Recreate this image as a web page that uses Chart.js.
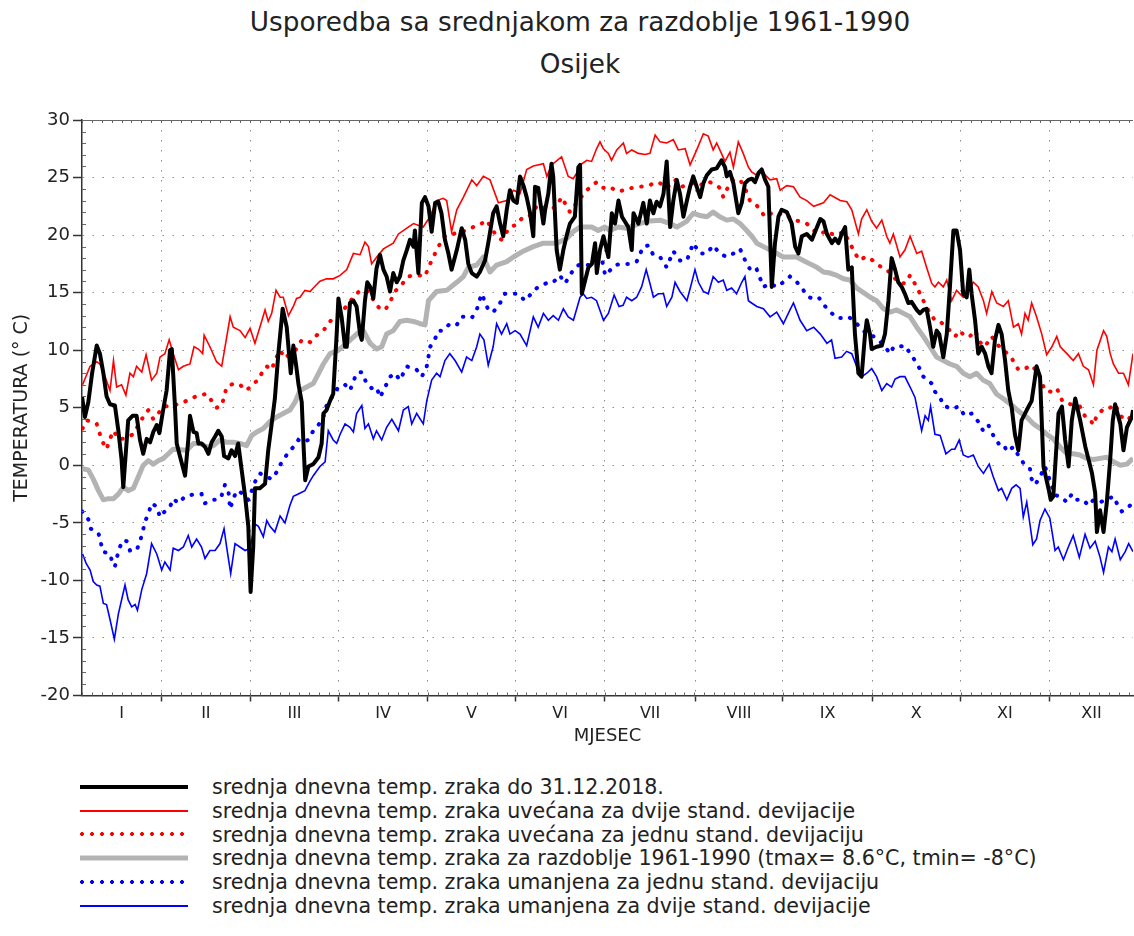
<!doctype html>
<html lang="hr">
<head>
<meta charset="utf-8">
<title>Usporedba sa srednjakom za razdoblje 1961-1990 - Osijek</title>
<script src="https://cdn.jsdelivr.net/npm/chart.js@4.4.1/dist/chart.umd.min.js"></script>
<style>
  * { box-sizing: border-box; }
  body { margin: 0; background: #fff; color: #222; font-family: 'DejaVu Sans', sans-serif; }
  .page { position: relative; width: 1134px; height: 936px; overflow: hidden; }
  .title { position: absolute; left: 0; width: 1160px; text-align: center; font-size: 26.3px; line-height: 30px; margin: 0; font-weight: normal; }
  .chart-box { position: absolute; left: 0; top: 0; width: 1134px; height: 760px; }
  .legend { position: absolute; left: 0; top: 775px; width: 1134px; margin: 0; padding: 0; list-style: none; }
  .legend li { position: relative; height: 23.8px; }
  .legend .sample { position: absolute; left: 80px; width: 108px; top: 50%; transform: translateY(-50%); }
  .legend .text { position: absolute; left: 212px; top: 0; font-size: 20.6px; line-height: 24px; white-space: nowrap; }
  .s-black { height: 4px; background: #000; }
  .s-red { height: 2px; background: #ff0000; }
  .s-reddot { height: 4px; background: radial-gradient(circle at 2px 2px, #ff0000 1.7px, transparent 2.2px) 0 0 / 10px 4px repeat-x; }
  .s-gray { height: 5px; background: #b3b3b3; }
  .s-bluedot { height: 4px; background: radial-gradient(circle at 2px 2px, #0000ff 1.7px, transparent 2.2px) 0 0 / 10px 4px repeat-x; }
  .s-blue { height: 2px; background: #0000ff; }
</style>
</head>
<body>
<div class="page">
  <h1 class="title" style="top:7px">Usporedba sa srednjakom za razdoblje 1961-1990</h1>
  <h2 class="title" style="top:49px">Osijek</h2>
  <div class="chart-box"><canvas id="chart"></canvas></div>
  <ul class="legend">
    <li><span class="sample s-black"></span><span class="text">srednja dnevna temp. zraka do 31.12.2018.</span></li>
    <li><span class="sample s-red"></span><span class="text">srednja dnevna temp. zraka uvećana za dvije stand. devijacije</span></li>
    <li><span class="sample s-reddot"></span><span class="text">srednja dnevna temp. zraka uvećana za jednu stand. devijaciju</span></li>
    <li><span class="sample s-gray"></span><span class="text">srednja dnevna temp. zraka za razdoblje 1961-1990 (tmax= 8.6°C, tmin= -8°C)</span></li>
    <li><span class="sample s-bluedot"></span><span class="text">srednja dnevna temp. zraka umanjena za jednu stand. devijaciju</span></li>
    <li><span class="sample s-blue"></span><span class="text">srednja dnevna temp. zraka umanjena za dvije stand. devijacije</span></li>
  </ul>
</div>
<script>
// x axis is day of year (0..364); month edges and label centres are in days
const monthEdges = [27.4, 58.4, 88.8, 119.7, 150.1, 181.1, 212.4, 242.7, 273.7, 304.1, 335.2];
const monthNames = ['I', 'II', 'III', 'IV', 'V', 'VI', 'VII', 'VIII', 'IX', 'X', 'XI', 'XII'];
const xMin = 0, xMax = 364;
const yMin = -20, yMax = 30, yStep = 5;

// 2018 daily mean
const blackDays = [0, 1, 2.2, 3.5, 5.1, 6.2, 7.4, 8.5, 9.7, 11.4, 12.6, 13.7, 14.3, 15.5, 16.0, 17.5, 18.9, 20.1, 21.2, 22.4,
  23.6, 24.7, 25.9, 26.8, 27.9, 29.3, 30.5, 31.1, 32.2, 32.8, 33.9, 35.7, 36.8, 37.4, 38.6, 39.7, 40.3, 41.4, 42.6, 43.8,
  44.9, 46.1, 47.2, 48.4, 49.2, 50.7, 51.8, 53.0, 54.1, 55.3, 56.5, 57.6, 58.4, 59.3, 59.9, 61.6, 63.4, 64.5, 65.7, 66.8,
  68.0, 69.5, 70.9, 72.3, 73.2, 74.2, 75.0, 76.1, 76.7, 77.3, 78.4, 80.1, 81.9, 83.0, 83.6, 84.7, 85.9, 87.0, 88.2, 88.8,
  89.9, 91.1, 91.7, 92.8, 94.0, 95.1, 96.3, 96.9, 98.0, 98.8, 99.8, 100.9, 102.0, 103.2, 104.4, 105.5, 106.7, 107.8, 109.0, 110.1,
  111.3, 112.5, 113.6, 114.8, 115.3, 116.5, 117.7, 118.8, 120.0, 121.1, 122.3, 123.4, 124.5, 125.7, 126.9, 128.0, 129.8, 131.5, 132.7, 133.8,
  135.0, 136.7, 137.8, 139.6, 140.7, 142.4, 143.6, 144.8, 145.9, 147.1, 148.2, 149.4, 150.6, 151.7, 152.9, 154.0, 155.2, 156.3, 156.9, 158.0,
  159.8, 160.4, 161.5, 162.6, 163.2, 164.4, 165.5, 166.7, 167.9, 169.0, 170.7, 171.9, 172.5, 173.1, 174.3, 175.4, 176.6, 177.7, 178.3, 179.4,
  180.6, 182.3, 183.5, 184.6, 185.8, 187.0, 189.2, 190.4, 191.0, 192.7, 194.4, 195.6, 196.7, 197.9, 199.0, 200.2, 201.4, 202.5, 203.7, 204.8,
  206.0, 207.1, 208.3, 209.5, 210.6, 211.7, 212.9, 214.1, 215.2, 216.4, 218.1, 219.8, 221.5, 222.7, 223.3, 224.4, 225.6, 227.3, 228.5, 229.6,
  230.8, 232.0, 233.1, 234.3, 235.4, 236.6, 237.7, 238.9, 240.0, 241.2, 242.3, 244.1, 245.8, 247.0, 248.1, 249.3, 251.0, 252.8, 253.9, 255.7,
  256.8, 258.0, 259.7, 260.8, 262.0, 263.1, 264.3, 265.4, 266.6, 267.7, 268.9, 270.0, 271.2, 271.8, 272.9, 273.5, 275.2, 277.0, 278.1, 279.3,
  280.4, 281.6, 282.7, 283.9, 285.0, 286.2, 287.3, 289.1, 290.2, 291.4, 292.5, 293.7, 294.8, 296.0, 296.9, 298.3, 299.5, 300.6, 301.8, 302.9,
  304.1, 305.2, 306.4, 307.3, 308.1, 309.3, 310.4, 311.6, 312.8, 313.9, 315.0, 316.2, 317.4, 318.5, 319.7, 320.8, 322.0, 323.1, 324.3, 325.4,
  327.2, 328.9, 330.0, 330.6, 331.8, 333.0, 334.8, 335.5, 336.4, 338.2, 339.4, 340.5, 341.7, 342.8, 344.0, 345.7, 347.5, 348.6, 349.8, 350.9,
  351.5, 352.6, 353.8, 354.9, 356.1, 357.0, 357.8, 359.6, 360.7, 361.9, 363.6, 364];
const blackTemps = [6.0, 4.2, 5.5, 8.0, 10.4, 9.7, 8.0, 6.0, 5.3, 5.2, 3.0, 0.5, -1.9, 2.2, 3.9, 4.3, 4.3, 2.2, 1.0, 2.3,
  2.0, 2.9, 3.5, 2.8, 4.5, 6.5, 10.0, 10.1, 5.1, 1.9, 0.8, -0.9, 2.2, 4.3, 2.9, 2.8, 1.9, 1.9, 1.6, 1.0,
  2.0, 2.5, 3.0, 2.5, 0.8, 0.6, 1.3, 0.8, 1.9, -0.4, -2.7, -5.3, -11.0, -7.1, -2.0, -2.0, -1.6, 1.3, 3.6, 5.8,
  9.7, 13.6, 12.0, 8.0, 10.4, 8.6, 7.0, 5.5, 1.9, -1.3, -0.1, 0.1, 0.7, 1.9, 4.5, 4.8, 5.6, 6.2, 11.4, 14.5,
  12.9, 10.3, 10.3, 14.1, 14.3, 13.8, 11.4, 10.9, 14.3, 15.9, 15.5, 14.5, 17.1, 18.3, 17.0, 16.4, 15.1, 16.7, 15.9, 16.4,
  17.8, 18.7, 19.6, 19.0, 20.4, 16.7, 22.8, 23.3, 22.5, 20.3, 22.8, 22.9, 21.9, 19.6, 18.4, 17.0, 18.7, 20.6, 19.6, 17.5,
  16.7, 16.4, 16.8, 17.8, 19.3, 21.9, 22.5, 21.0, 19.9, 22.2, 23.9, 23.0, 22.8, 25.1, 24.3, 23.3, 21.9, 19.9, 24.2, 24.1,
  21.0, 22.2, 23.6, 26.2, 25.1, 18.7, 17.0, 18.7, 20.0, 21.0, 21.6, 25.9, 26.1, 14.9, 16.1, 17.2, 17.5, 19.3, 16.7, 18.7,
  19.9, 18.1, 21.9, 21.0, 23.0, 21.6, 20.7, 18.7, 21.9, 21.0, 22.8, 21.0, 23.0, 21.9, 22.9, 22.5, 23.6, 26.4, 20.7, 23.0,
  24.8, 23.6, 21.6, 23.0, 24.2, 25.1, 24.2, 23.3, 24.5, 25.2, 25.7, 25.8, 26.5, 25.9, 25.1, 25.5, 24.5, 21.9, 22.8, 24.5,
  24.8, 24.9, 24.6, 25.4, 25.7, 24.8, 24.2, 15.5, 19.3, 21.6, 22.2, 22.0, 21.0, 19.0, 18.4, 19.9, 20.1, 19.6, 20.3, 21.4,
  21.2, 20.1, 19.3, 19.7, 19.3, 20.1, 20.7, 17.0, 17.2, 11.4, 8.0, 7.7, 11.4, 12.6, 11.4, 10.1, 10.3, 10.4, 11.4, 14.3,
  18.0, 17.0, 15.9, 15.5, 14.9, 14.1, 14.2, 13.5, 13.2, 13.5, 13.6, 12.0, 10.3, 11.7, 11.4, 9.4, 11.4, 15.5, 20.4, 20.4,
  18.7, 14.9, 14.6, 17.0, 14.9, 12.6, 9.7, 10.3, 9.7, 8.6, 8.0, 10.9, 12.2, 11.4, 9.1, 6.5, 5.0, 2.7, 1.3, 3.9,
  4.8, 5.6, 7.5, 8.6, 7.7, -0.1, -2.1, -3.0, -2.7, 4.5, 5.1, 2.2, -0.1, 3.9, 5.8, 3.9, 1.6, 0.5, -0.7, -2.4,
  -5.8, -3.9, -5.8, -3.3, 0.5, 3.9, 5.3, 3.6, 1.3, 3.3, 4.2, 4.8];

// 1961-1990 mean + 2 standard deviations
const redDays = [0.2, 2.8, 5.1, 6.2, 8.0, 9.7, 10.9, 12.0, 13.7, 15.2, 16.6, 17.8, 18.9, 20.7, 22.2, 24.1, 25.9, 27.0, 28.7, 30.2,
  31.6, 33.4, 35.1, 37.4, 38.8, 40.3, 41.8, 42.3, 44.3, 46.6, 48.4, 51.3, 52.4, 54.7, 56.5, 58.2, 59.9, 61.6, 63.4, 64.5,
  65.7, 67.2, 68.6, 69.7, 71.5, 73.2, 74.3, 75.5, 77.2, 79.0, 80.1, 82.4, 84.7, 87.0, 89.4, 91.7, 94.0, 96.3, 98.0, 99.2,
  100.3, 102.1, 104.4, 107.8, 109.6, 112.5, 114.8, 118.2, 120.5, 122.8, 125.1, 126.3, 128.0, 129.8, 132.1, 135.0, 136.7, 139.0, 141.3, 144.2,
  147.1, 149.4, 151.7, 154.0, 156.3, 159.8, 161.0, 162.6, 166.1, 168.4, 170.1, 171.9, 173.1, 174.8, 176.5, 178.2, 179.4, 180.6, 182.3, 183.4,
  185.2, 187.5, 188.6, 190.4, 192.7, 195.0, 196.7, 198.5, 200.2, 202.5, 204.8, 206.5, 208.9, 210.6, 212.9, 215.2, 216.9, 218.6, 219.8, 220.9,
  222.7, 224.4, 225.6, 227.3, 229.0, 230.8, 231.9, 233.7, 235.4, 237.1, 238.3, 240.6, 241.8, 244.1, 246.4, 248.7, 251.0, 253.4, 256.8, 259.1,
  262.6, 264.9, 266.6, 268.9, 270.0, 271.8, 273.5, 275.2, 277.0, 278.7, 279.8, 281.0, 283.3, 285.0, 286.8, 289.1, 290.8, 292.5, 294.3, 295.4,
  296.6, 298.3, 299.5, 301.2, 302.9, 305.2, 307.0, 308.7, 310.4, 312.2, 313.3, 315.1, 316.8, 319.1, 320.8, 322.6, 324.3, 325.4, 326.6, 327.7,
  328.9, 330.6, 332.4, 334.1, 335.9, 337.6, 338.8, 341.1, 343.3, 345.1, 346.8, 348.6, 350.3, 351.5, 353.8, 354.9, 356.1, 357.2, 359.0, 360.7,
  362.4, 364];
const redTemps = [7.0, 8.6, 9.0, 8.8, 7.7, 6.5, 9.1, 6.8, 7.0, 6.1, 8.0, 7.7, 8.6, 8.1, 9.6, 7.4, 8.0, 9.4, 9.7, 10.9,
  9.7, 8.3, 8.6, 8.8, 10.3, 10.1, 9.7, 11.3, 10.3, 9.0, 8.6, 12.9, 12.0, 11.7, 11.1, 11.9, 10.6, 12.0, 13.5, 12.5,
  13.2, 15.2, 14.6, 14.6, 13.0, 13.8, 14.5, 14.6, 15.2, 15.1, 15.4, 16.0, 16.2, 16.2, 16.5, 17.0, 18.4, 18.3, 19.4, 19.0,
  17.5, 18.1, 18.8, 19.3, 20.1, 20.6, 21.0, 20.7, 21.6, 23.0, 23.2, 23.0, 20.3, 22.2, 23.3, 24.8, 24.3, 25.1, 24.8, 22.8,
  23.0, 23.9, 23.6, 25.7, 26.0, 26.2, 25.1, 26.1, 26.8, 25.1, 24.9, 25.6, 26.2, 26.5, 26.4, 27.5, 28.1, 27.5, 27.1, 26.5,
  27.4, 28.0, 27.1, 27.4, 27.1, 27.0, 27.1, 28.7, 28.1, 28.0, 28.3, 27.4, 27.5, 26.1, 27.4, 28.8, 28.6, 27.4, 28.0, 27.4,
  26.4, 27.2, 25.9, 28.1, 27.1, 25.9, 25.5, 25.2, 25.6, 25.1, 24.8, 24.9, 23.9, 24.3, 24.2, 23.3, 23.0, 22.5, 22.8, 23.5,
  23.0, 22.9, 22.2, 20.1, 21.4, 22.2, 21.2, 20.6, 21.3, 19.9, 19.3, 20.1, 18.1, 18.7, 19.9, 18.4, 18.6, 17.2, 15.8, 15.5,
  15.9, 15.5, 16.1, 14.3, 15.2, 14.6, 15.2, 15.9, 15.5, 14.3, 13.2, 15.1, 14.1, 13.8, 14.3, 12.0, 12.3, 11.4, 13.2, 12.6,
  14.1, 12.9, 11.4, 9.6, 10.3, 11.2, 10.3, 9.7, 9.1, 9.7, 8.6, 8.3, 7.0, 10.0, 11.7, 11.2, 9.7, 8.8, 8.0, 8.0,
  7.0, 9.7];

// 1961-1990 mean + 1 standard deviation
const redDotDays = [0.2, 1.6, 3.3, 5.1, 6.2, 7.4, 8.5, 9.7, 10.9, 12.6, 14.3, 16.0, 17.8, 19.5, 21.2, 23.0, 24.7, 26.4, 28.2, 31.6,
  34.5, 38.6, 40.9, 43.2, 46.6, 48.4, 50.1, 52.4, 54.7, 57.0, 59.3, 61.1, 62.8, 64.0, 65.7, 66.8, 68.6, 70.3, 72.0, 74.3,
  76.1, 79.0, 80.7, 83.6, 85.9, 87.6, 89.9, 94.0, 96.3, 99.2, 101.5, 103.2, 105.0, 106.7, 108.4, 110.7, 113.0, 114.8, 117.1, 118.8,
  120.0, 121.7, 123.4, 125.7, 128.6, 130.9, 133.2, 135.5, 137.8, 140.1, 143.6, 145.3, 148.2, 150.5, 152.8, 155.2, 157.5, 159.8, 162.1, 164.4,
  166.1, 169.0, 171.9, 174.8, 178.2, 180.6, 182.8, 185.2, 188.0, 190.4, 193.3, 196.2, 199.0, 200.2, 202.5, 205.4, 207.7, 210.0, 212.9, 215.2,
  217.5, 219.8, 220.9, 222.1, 223.8, 225.6, 227.9, 229.6, 231.3, 233.0, 234.8, 236.5, 238.3, 240.6, 242.3, 244.1, 246.4, 248.7, 251.0, 253.4,
  255.7, 258.0, 259.7, 261.4, 263.7, 266.0, 267.7, 269.5, 271.2, 272.9, 275.2, 277.0, 278.7, 281.0, 282.7, 285.0, 286.8, 289.1, 291.4, 293.7,
  295.4, 297.2, 300.6, 302.4, 304.0, 305.8, 307.5, 309.3, 311.0, 312.7, 315.0, 317.4, 319.7, 322.0, 324.3, 326.6, 328.9, 331.2, 333.5, 335.5,
  337.6, 339.5, 341.5, 343.3, 345.6, 347.3, 349.1, 350.3, 351.4, 353.8, 355.5, 357.8, 359.6, 361.9, 363.6];
const redDotTemps = [3.2, 3.9, 3.8, 3.6, 2.7, 1.9, 1.4, 2.3, 3.0, 2.3, 2.3, 2.5, 2.7, 3.5, 4.2, 4.8, 4.0, 4.5, 5.1, 5.2,
  5.4, 5.9, 6.1, 6.2, 5.0, 5.2, 6.8, 7.1, 7.0, 6.5, 7.1, 7.4, 8.3, 8.6, 8.3, 9.1, 10.0, 9.3, 9.7, 10.1,
  10.9, 10.7, 11.2, 11.7, 12.5, 12.9, 13.3, 14.6, 15.2, 15.1, 14.1, 13.6, 13.5, 14.2, 15.1, 15.7, 16.4, 16.5, 16.5, 16.4,
  17.2, 18.1, 19.0, 19.9, 20.1, 20.3, 20.4, 20.7, 20.9, 21.3, 19.9, 19.6, 20.7, 20.9, 21.6, 21.7, 22.5, 22.5, 22.2, 22.5,
  23.3, 22.0, 23.0, 23.9, 24.6, 24.1, 24.2, 23.8, 23.9, 24.1, 24.2, 24.3, 24.6, 24.5, 24.1, 24.8, 24.2, 24.4, 24.6, 24.3,
  24.6, 24.3, 24.1, 23.3, 24.2, 24.8, 24.8, 24.1, 23.0, 22.8, 22.2, 21.6, 21.9, 21.7, 21.9, 21.7, 21.3, 21.2, 21.0, 20.4,
  20.1, 20.4, 20.1, 20.0, 20.3, 19.3, 18.4, 17.8, 18.1, 18.0, 17.5, 17.2, 17.0, 16.4, 15.9, 15.8, 16.5, 15.5, 14.3, 13.2,
  12.6, 12.5, 11.7, 11.2, 11.7, 11.2, 11.2, 11.7, 10.7, 10.3, 11.2, 10.4, 9.9, 9.3, 8.3, 8.4, 8.7, 8.0, 6.5, 6.4,
  6.7, 5.6, 5.4, 5.2, 5.1, 4.3, 4.0, 3.5, 4.3, 4.9, 4.9, 5.3, 4.3, 3.9, 4.3];

// 1961-1990 mean
const grayDays = [0.2, 2.2, 3.9, 5.7, 7.4, 9.1, 10.9, 12.6, 14.3, 16.0, 17.8, 19.5, 21.2, 23.0, 24.7, 26.4, 28.2, 29.9, 31.6, 36.3,
  38.6, 40.9, 43.2, 45.5, 47.8, 50.1, 52.4, 54.7, 57.0, 58.8, 60.5, 62.8, 65.1, 67.4, 69.7, 72.0, 73.8, 75.5, 80.1, 83.6,
  85.9, 88.8, 91.7, 95.1, 97.4, 99.8, 102.1, 103.8, 105.5, 107.8, 110.1, 112.5, 114.8, 117.1, 118.8, 120.0, 122.8, 126.3, 129.8, 132.1,
  133.8, 136.7, 139.0, 141.3, 143.6, 147.1, 149.4, 152.8, 156.3, 159.8, 164.4, 167.9, 170.1, 172.5, 176.5, 178.8, 181.1, 182.8, 185.8, 188.6,
  192.1, 195.6, 200.2, 203.7, 206.0, 209.4, 211.7, 214.0, 216.4, 218.6, 220.9, 223.3, 225.6, 227.9, 230.2, 232.0, 233.7, 236.0, 238.3, 240.6,
  242.9, 245.2, 247.5, 249.8, 252.1, 254.5, 256.8, 259.1, 261.4, 263.7, 266.0, 268.3, 269.5, 273.0, 275.2, 277.6, 279.9, 282.2, 284.5, 286.8,
  289.1, 291.4, 293.7, 296.0, 298.3, 300.6, 302.9, 305.2, 307.5, 309.8, 312.1, 314.4, 316.7, 319.0, 322.6, 324.9, 327.2, 329.5, 331.8, 334.1,
  336.4, 338.7, 341.1, 343.3, 345.6, 347.9, 350.3, 352.6, 354.9, 357.2, 359.6, 361.9, 364];
const grayTemps = [-0.3, -0.4, -1.2, -2.2, -3.0, -2.9, -2.9, -2.5, -1.9, -2.2, -2.0, -1.0, 0.0, 0.4, 0.1, 0.4, 0.6, 1.0, 1.4, 1.3,
  1.9, 1.9, 1.6, 1.7, 2.2, 2.0, 2.0, 1.9, 1.7, 2.6, 2.9, 3.2, 3.8, 4.2, 4.5, 4.8, 5.5, 6.5, 7.1, 8.8,
  9.7, 10.0, 10.6, 11.4, 11.7, 10.6, 10.1, 10.3, 11.4, 11.7, 12.5, 12.6, 12.5, 12.3, 12.2, 14.3, 15.1, 15.2, 15.9, 16.4,
  17.2, 17.4, 18.1, 16.8, 17.4, 17.7, 18.1, 18.6, 19.0, 19.3, 19.3, 19.7, 20.3, 20.7, 20.7, 20.4, 20.7, 20.4, 20.7, 20.6,
  20.9, 21.2, 21.3, 21.0, 20.7, 21.2, 21.9, 21.7, 21.6, 22.0, 21.6, 21.3, 21.4, 21.0, 20.4, 19.9, 19.3, 19.0, 18.7, 18.4,
  18.1, 18.1, 18.1, 17.8, 17.5, 17.2, 16.8, 16.7, 16.5, 16.2, 16.1, 15.4, 15.2, 14.6, 14.3, 13.6, 13.3, 13.5, 13.2, 12.9,
  12.0, 11.2, 10.3, 9.4, 9.1, 8.8, 8.6, 8.0, 7.7, 8.0, 7.4, 7.1, 6.2, 5.8, 5.1, 4.6, 4.2, 3.6, 3.2, 2.7,
  2.3, 1.6, 1.0, 1.0, 0.9, 0.6, 0.5, 0.6, 0.7, 0.3, 0.0, 0.1, 0.6];

// 1961-1990 mean - 1 standard deviation
const blueDotDays = [0.0, 2.2, 3.0, 5.7, 6.5, 7.2, 9.7, 10.6, 11.4, 12.0, 12.9, 14.3, 15.5, 16.6, 18.9, 20.1, 21.0, 21.8, 23.0, 24.1,
  25.9, 27.0, 28.7, 30.5, 31.6, 33.4, 35.7, 37.4, 39.1, 41.4, 42.6, 44.9, 47.2, 48.4, 49.5, 50.7, 51.3, 52.4, 53.6, 54.7,
  56.5, 57.6, 60.0, 61.6, 64.0, 65.7, 67.4, 69.2, 70.9, 73.2, 74.9, 76.1, 78.4, 80.1, 81.9, 83.6, 84.7, 86.5, 88.8, 91.1,
  92.8, 95.1, 96.9, 98.6, 100.3, 102.0, 103.2, 105.0, 106.7, 108.4, 110.1, 112.5, 114.2, 115.9, 117.7, 119.4, 120.6, 122.3, 123.4, 125.1,
  127.4, 129.8, 131.5, 133.2, 135.0, 136.7, 138.4, 139.6, 140.7, 142.4, 144.8, 146.5, 148.8, 151.1, 153.4, 155.2, 157.5, 159.8, 161.5, 163.2,
  165.5, 167.3, 170.2, 172.5, 175.4, 177.7, 180.0, 181.2, 184.6, 186.9, 189.8, 192.1, 194.4, 196.2, 197.8, 200.2, 202.5, 204.8, 207.1, 209.5,
  211.7, 214.0, 216.4, 218.6, 220.9, 223.3, 225.6, 227.9, 230.2, 232.0, 233.7, 236.0, 238.3, 240.6, 242.9, 245.2, 247.0, 249.3, 251.6, 253.3,
  255.1, 257.4, 259.7, 261.4, 263.1, 265.4, 267.1, 269.5, 271.8, 274.1, 275.8, 278.1, 279.9, 281.1, 282.8, 285.1, 286.8, 288.5, 289.7, 291.4,
  292.6, 294.3, 295.4, 297.2, 298.3, 301.2, 303.5, 305.8, 308.1, 310.4, 312.1, 313.9, 315.6, 317.4, 319.1, 320.3, 322.6, 324.9, 326.6, 328.3,
  328.9, 330.1, 331.8, 333.5, 335.2, 337.0, 338.8, 341.1, 342.8, 344.5, 346.8, 348.6, 350.3, 352.6, 354.9, 357.2, 359.0, 360.1, 361.9, 363.6];
const blueDotTemps = [-4.0, -4.7, -5.5, -5.9, -6.7, -7.5, -7.7, -8.5, -8.8, -8.1, -7.2, -6.5, -6.6, -7.4, -7.4, -6.6, -5.8, -4.9, -4.2, -3.3,
  -3.6, -4.5, -4.0, -3.6, -2.9, -3.3, -2.7, -2.6, -2.5, -2.5, -3.3, -3.0, -3.0, -2.6, -1.7, -2.2, -3.8, -2.9, -2.2, -2.3,
  -2.7, -3.0, -1.4, -0.7, -1.0, -1.2, -0.6, 0.3, 0.9, 1.6, 2.2, 2.0, 2.2, 3.0, 3.5, 4.2, 5.2, 5.9, 6.8, 7.0,
  6.5, 8.0, 8.1, 7.1, 6.7, 6.8, 5.9, 6.8, 7.7, 8.0, 7.4, 8.6, 8.4, 8.3, 7.7, 8.6, 10.3, 11.0, 11.7, 11.7,
  12.3, 12.2, 12.9, 12.9, 12.8, 13.5, 14.9, 14.2, 13.5, 13.3, 14.1, 14.9, 14.9, 14.9, 14.3, 14.8, 15.4, 15.7, 15.9, 15.9,
  16.5, 15.8, 17.0, 17.5, 17.4, 17.7, 18.0, 16.5, 17.4, 17.5, 17.5, 17.7, 19.0, 19.1, 18.3, 18.1, 17.2, 18.6, 17.8, 17.8,
  19.3, 18.4, 18.4, 19.1, 18.4, 18.1, 18.4, 18.8, 17.5, 16.8, 17.0, 15.5, 15.8, 15.5, 15.9, 16.4, 16.1, 15.4, 14.6, 14.5,
  14.6, 13.8, 13.2, 12.8, 12.8, 12.9, 12.6, 12.0, 11.4, 11.2, 10.9, 10.3, 9.7, 10.3, 10.3, 10.4, 9.7, 9.1, 8.6, 7.7,
  7.5, 7.1, 6.4, 5.9, 5.2, 4.9, 5.1, 4.3, 4.5, 3.8, 3.0, 3.5, 2.6, 1.9, 1.9, 1.2, 1.6, 0.6, 0.0, -0.3,
  -1.2, -1.7, -1.0, -0.1, -1.3, -2.6, -2.7, -3.2, -2.5, -3.0, -3.0, -3.5, -3.0, -3.2, -3.0, -2.7, -3.6, -4.0, -3.8, -3.3];

// 1961-1990 mean - 2 standard deviations
const blueDays = [0.2, 1.4, 2.8, 3.9, 5.1, 6.2, 7.4, 8.5, 9.7, 11.2, 12.6, 14.9, 16.0, 17.2, 18.4, 19.2, 20.7, 22.4, 24.1, 25.9,
  27.6, 28.7, 30.5, 31.6, 33.4, 35.1, 36.8, 38.0, 39.7, 41.4, 42.6, 44.3, 46.1, 47.8, 49.2, 50.1, 51.5, 53.0, 54.7, 56.5,
  58.2, 59.9, 61.1, 62.8, 64.0, 65.1, 66.8, 68.6, 70.3, 72.0, 73.2, 74.9, 77.2, 78.9, 80.1, 82.4, 84.2, 85.3, 87.0, 88.2,
  89.4, 91.1, 92.8, 94.0, 95.1, 96.9, 98.0, 99.2, 100.9, 102.0, 103.8, 105.5, 107.3, 109.6, 111.3, 113.0, 114.2, 115.9, 118.2, 119.4,
  121.1, 122.8, 124.0, 125.7, 127.4, 129.2, 131.5, 133.2, 135.0, 136.7, 137.8, 139.2, 140.7, 142.4, 143.6, 145.3, 147.1, 148.2, 150.0, 151.7,
  154.0, 156.3, 158.0, 159.8, 161.5, 163.2, 165.0, 166.7, 168.4, 170.2, 172.5, 173.6, 174.8, 176.5, 178.2, 180.6, 182.3, 184.3, 186.0, 187.4,
  188.6, 190.4, 192.1, 193.8, 195.4, 196.7, 197.9, 199.6, 201.4, 202.5, 204.3, 205.4, 207.1, 209.5, 211.2, 212.3, 213.5, 215.2, 216.9, 218.6,
  220.4, 222.1, 223.3, 225.0, 226.7, 228.5, 229.6, 230.8, 231.9, 233.7, 236.0, 238.3, 240.6, 242.9, 245.2, 246.4, 248.7, 251.0, 253.4, 255.7,
  258.0, 259.6, 260.8, 263.1, 264.8, 266.6, 268.3, 270.1, 271.8, 273.5, 275.2, 277.0, 278.7, 280.4, 281.6, 283.3, 285.0, 286.8, 288.5, 290.8,
  292.0, 293.1, 293.9, 295.4, 297.2, 299.2, 301.2, 302.3, 303.8, 305.2, 306.9, 308.7, 310.4, 312.2, 314.2, 315.6, 317.4, 318.5, 320.3, 322.0,
  323.5, 324.9, 326.0, 327.2, 328.3, 329.3, 330.6, 331.8, 333.5, 335.2, 337.0, 338.1, 339.9, 341.6, 343.3, 345.4, 347.4, 349.1, 350.9, 352.6,
  353.8, 355.5, 356.7, 357.8, 359.6, 361.3, 362.5, 364];
const blueTemps = [-7.7, -8.5, -9.1, -10.1, -10.4, -10.5, -12.0, -12.1, -13.4, -15.1, -12.9, -10.4, -11.7, -12.3, -12.1, -12.6, -10.8, -9.4, -6.8, -7.7,
  -9.1, -8.4, -9.1, -7.2, -7.4, -7.1, -6.1, -7.1, -6.4, -7.1, -8.1, -7.4, -7.4, -6.8, -5.5, -7.1, -9.4, -6.8, -7.1, -7.4,
  -7.2, -5.1, -5.3, -6.2, -4.8, -5.3, -5.8, -4.4, -5.0, -3.5, -2.7, -2.5, -2.2, -1.4, -0.9, -0.1, 0.3, 3.0, 2.2, 1.9,
  2.7, 3.6, 3.3, 2.9, 4.5, 5.2, 3.2, 3.6, 2.3, 3.0, 2.2, 3.3, 4.0, 3.0, 4.8, 5.1, 3.6, 4.5, 3.6, 5.6,
  7.4, 8.0, 7.7, 9.1, 9.7, 9.1, 8.1, 9.4, 9.1, 10.3, 11.4, 10.9, 8.7, 10.3, 12.3, 11.4, 12.3, 11.4, 11.7, 11.4,
  10.4, 12.9, 12.0, 13.2, 12.6, 13.0, 12.6, 13.6, 12.9, 12.6, 14.6, 14.9, 14.5, 14.6, 14.3, 12.6, 13.2, 14.8, 13.8, 13.9,
  14.6, 14.3, 14.6, 15.5, 17.0, 15.8, 14.6, 14.9, 14.9, 13.8, 14.6, 15.9, 15.1, 14.3, 15.9, 17.0, 15.9, 15.1, 14.9, 16.4,
  15.9, 16.1, 15.2, 15.4, 14.9, 15.9, 16.4, 14.3, 14.1, 13.8, 13.6, 12.9, 13.3, 12.3, 13.5, 14.1, 12.6, 11.7, 12.0, 11.4,
  10.6, 10.9, 9.3, 9.4, 9.9, 9.7, 8.6, 7.7, 8.0, 8.4, 7.7, 6.5, 7.1, 6.8, 7.5, 7.7, 7.7, 6.8, 5.9, 3.0,
  4.3, 3.9, 5.1, 2.7, 2.6, 1.0, 1.4, 1.4, 2.2, 0.9, 0.7, 0.9, -0.1, -0.7, 0.1, -1.0, -2.2, -2.0, -3.0, -2.0,
  -1.7, -2.0, -4.5, -3.2, -5.1, -6.9, -6.4, -4.8, -3.8, -4.6, -7.4, -7.1, -8.2, -7.1, -6.1, -8.0, -6.0, -7.2, -6.6, -8.0,
  -9.3, -7.1, -7.5, -6.4, -8.2, -7.5, -6.8, -7.5];

function points(days, temps) {
  return days.map(function (d, i) { return { x: d, y: temps[i] }; });
}

// label centre of each month = middle between its edges (axis ends for I and XII)
const monthBounds = [xMin].concat(monthEdges, [xMax]);
const monthCenters = monthNames.map(function (_, i) { return (monthBounds[i] + monthBounds[i + 1]) / 2; });
const xTickValues = monthEdges.concat(monthCenters).sort(function (a, b) { return a - b; });

function isEdge(v) { return monthEdges.indexOf(v) !== -1; }
function monthLabel(v) {
  const i = monthCenters.indexOf(v);
  return i === -1 ? '' : monthNames[i];
}

// frame on top, minor ticks along the axes
const frameTicks = {
  id: 'frameTicks',
  afterDraw(chart) {
    const { ctx, chartArea: area, scales: { x, y } } = chart;
    ctx.save();
    ctx.strokeStyle = '#666';
    ctx.lineWidth = 1;
    ctx.beginPath();
    ctx.moveTo(area.left, area.top + 0.5);
    ctx.lineTo(area.right, area.top + 0.5);
    for (let v = yMin + 1; v < yMax; v++) {
      if (v % yStep === 0) continue;
      const py = Math.round(y.getPixelForValue(v)) + 0.5;
      ctx.moveTo(area.left, py);
      ctx.lineTo(area.left + 4, py);
    }
    const step = (monthEdges[monthEdges.length - 1] - monthEdges[0]) / (monthEdges.length - 1) / 9;
    let d = monthEdges[0];
    while (d - step >= xMin) d -= step;
    for (; d <= xMax; d += step) {
      const px = Math.round(x.getPixelForValue(d)) + 0.5;
      ctx.moveTo(px, area.bottom);
      ctx.lineTo(px, area.bottom - 3);
      ctx.moveTo(px, area.top);
      ctx.lineTo(px, area.top + 3);
    }
    ctx.stroke();
    ctx.restore();
  }
};

Chart.defaults.font.family = "'DejaVu Sans', sans-serif";
Chart.defaults.color = '#222';

new Chart(document.getElementById('chart'), {
  type: 'line',
  data: {
    datasets: [
      { label: 'srednja dnevna temp. zraka do 31.12.2018.', data: points(blackDays, blackTemps),
        borderColor: '#000', borderWidth: 4, borderJoinStyle: 'round' },
      { label: 'uvećana za dvije stand. devijacije', data: points(redDays, redTemps),
        borderColor: '#ff0000', borderWidth: 1.6 },
      { label: 'uvećana za jednu stand. devijaciju', data: points(redDotDays, redDotTemps),
        borderColor: '#ff0000', borderWidth: 4, borderDash: [0.5, 9.5], borderCapStyle: 'round' },
      { label: 'razdoblje 1961-1990', data: points(grayDays, grayTemps),
        borderColor: '#b3b3b3', borderWidth: 5, borderJoinStyle: 'round' },
      { label: 'umanjena za jednu stand. devijaciju', data: points(blueDotDays, blueDotTemps),
        borderColor: '#0000ff', borderWidth: 4, borderDash: [0.5, 9.5], borderCapStyle: 'round' },
      { label: 'umanjena za dvije stand. devijacije', data: points(blueDays, blueTemps),
        borderColor: '#0000ff', borderWidth: 1.6 }
    ]
  },
  options: {
    responsive: true,
    maintainAspectRatio: false,
    animation: false,
    layout: { padding: { top: 120, right: 1, left: 0, bottom: 0 } },
    elements: { point: { radius: 0 }, line: { tension: 0 } },
    plugins: { legend: { display: false }, tooltip: { enabled: false } },
    scales: {
      x: {
        type: 'linear',
        min: xMin,
        max: xMax,
        afterBuildTicks: function (axis) { axis.ticks = xTickValues.map(function (v) { return { value: v }; }); },
        afterFit: function (axis) { axis.height = 64.5; },
        ticks: { autoSkip: false, maxRotation: 0, minRotation: 0, padding: 3, font: { size: 16 }, callback: monthLabel },
        grid: {
          color: function (c) { return c.tick && isEdge(c.tick.value) ? '#8a8a8a' : 'rgba(0,0,0,0)'; },
          tickColor: function (c) { return c.tick && isEdge(c.tick.value) ? '#333' : 'rgba(0,0,0,0)'; },
          tickLength: 6,
          tickWidth: 1.5
        },
        border: { color: '#333', width: 1.5, dash: [1.5, 8.5] },
        title: { display: true, text: 'MJESEC', font: { size: 18 }, padding: { top: 0, bottom: 13 } }
      },
      y: {
        min: yMin,
        max: yMax,
        afterFit: function (axis) { axis.width = 82; },
        ticks: { stepSize: yStep, padding: 3, font: { size: 18 } },
        grid: { color: '#8a8a8a', tickColor: '#333', tickLength: 9, tickWidth: 1.5 },
        border: { color: '#333', width: 1.5, dash: [1.5, 8.5] },
        title: { display: true, text: 'TEMPERATURA (° C)', font: { size: 19 }, padding: { top: 11, bottom: 0 } }
      }
    }
  },
  plugins: [frameTicks]
});
</script>
</body>
</html>
